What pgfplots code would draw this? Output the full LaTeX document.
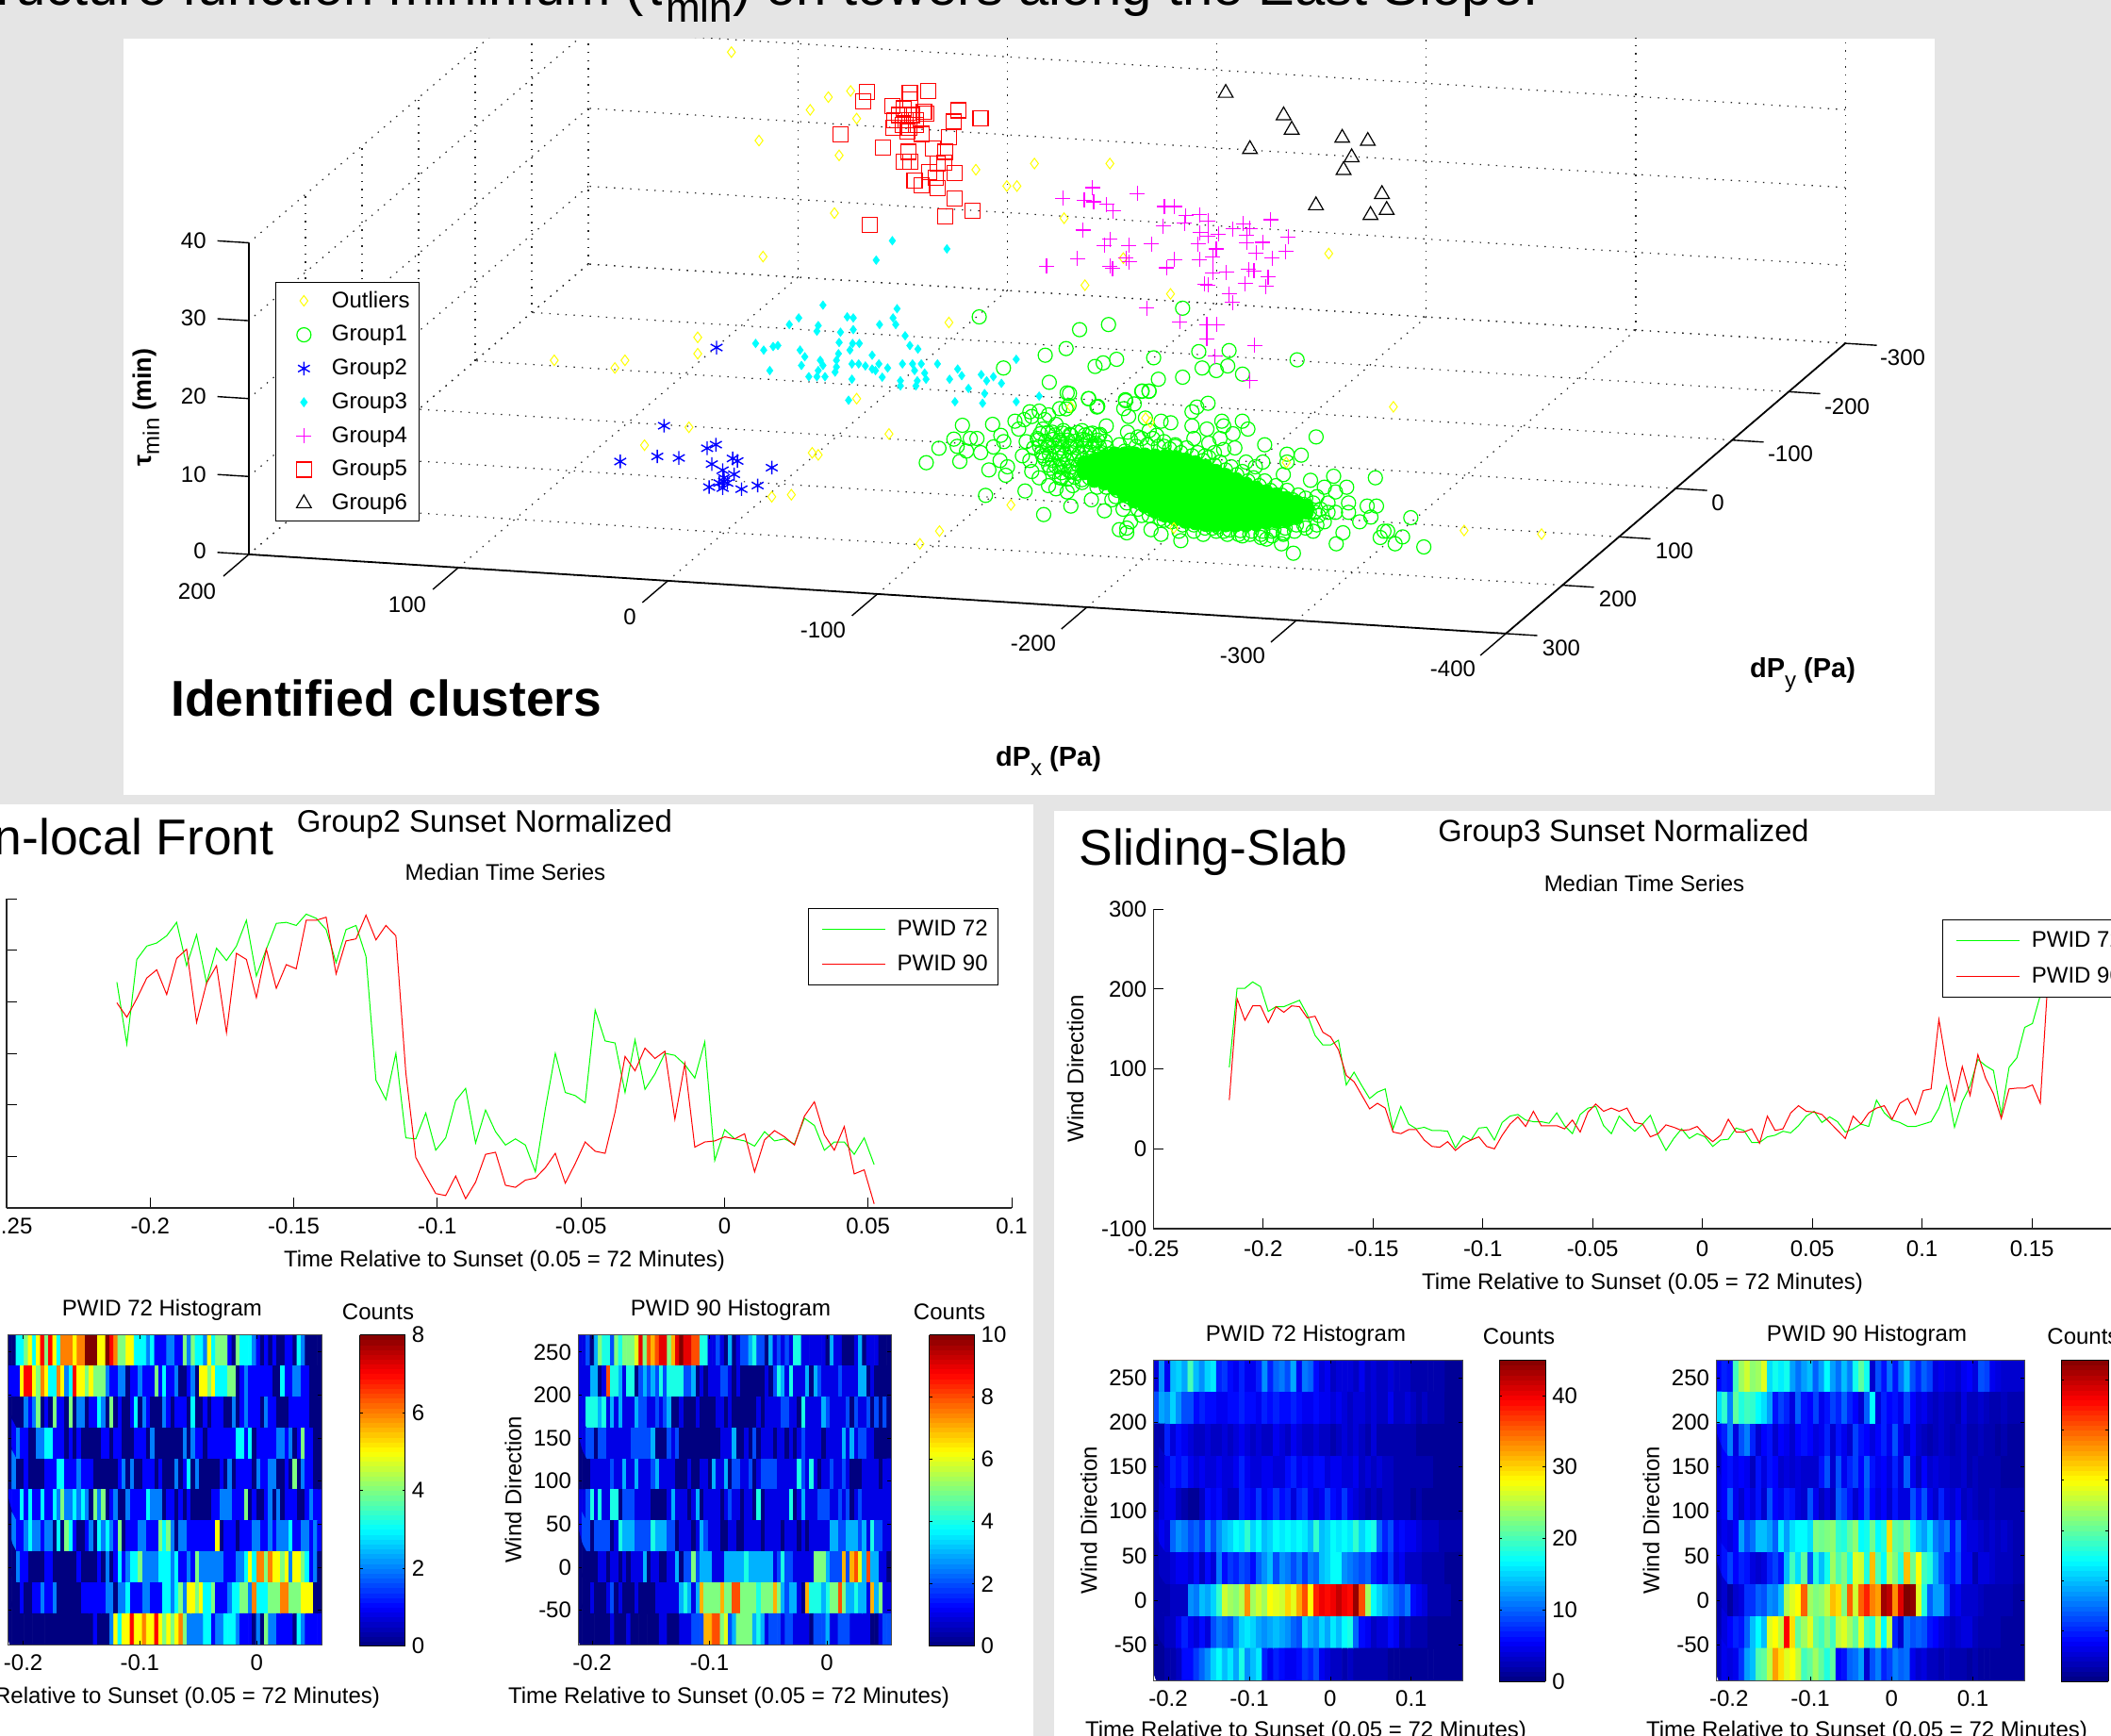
\documentclass[border=0pt]{standalone}
\usepackage{pgfplots}\pgfplotsset{compat=1.18}
\usepackage{pgfplotstable}
\usepackage{fontspec}\setmainfont{Liberation Sans}
\newcommand\fs[1]{\fontsize{#1}{#1}\selectfont}
\definecolor{bg}{HTML}{E5E5E5}
\definecolor{colY}{HTML}{FFFF00}\definecolor{colG}{HTML}{00FF00}\definecolor{colB}{HTML}{0000FF}
\definecolor{colC}{HTML}{00FFFF}\definecolor{colM}{HTML}{FF00FF}\definecolor{colR}{HTML}{FF0000}
\def\hadd#1 {\ifx|#1\else\expandafter\def\expandafter\hacc\expandafter{\hacc#1\\}\expandafter\hadd\fi}
\newcommand\hread[2]{\def\hacc{c\\}\hadd #1 | \edef\htmp{\noexpand\pgfplotstableread[row sep=crcr]{\unexpanded\expandafter{\hacc}}}\htmp#2}
\pgfplotsset{
 base/.style={scale only axis,font=\fs{12},tick label style={font=\fs{12}},/pgf/number format/assume math mode=true,clip=true},
 lineax/.style={base,axis x line=bottom,axis y line=left,axis line style={-,line width=.7pt,black!85},tick style={black,line width=.5pt},tick align=inside,major tick length=5.5pt,
   legend image code/.code={\path (-3.5pt,0pt) (37.8pt,0pt);\draw[##1,line width=.6pt] (0pt,0pt)--(33.5pt,0pt);},
   legend cell align=left},
 heat/.style={base,enlargelimits=false,y dir=normal,axis on top,tick align=inside,major tick length=2pt,tick style={black,line width=.4pt},axis line style={line width=.5pt,black!70},
   colormap/jet,ymin=-270,ymax=90,ytick={-250,-200,-150,-100,-50,0,50},xtick={-0.2,-0.1,0},xticklabels={-0.2,-0.1,0},yticklabels={250,200,150,100,50,0,-50},xticklabel style={yshift=-2pt}},
 lgd/.style={at={(0.797,0.97)},anchor=north west,draw=black,font=\fs{12},row sep=5pt,inner xsep=3.5pt,inner ysep=4pt},
 ptY/.style={only marks,mark=diamond,mark size=2.8pt,colY,mark options={line width=.5pt}},
 ptG/.style={only marks,mark=o,mark size=3.75pt,colG,mark options={line width=.6pt}},
 ptB/.style={only marks,mark=asterisk,mark size=3.6pt,colB,mark options={line width=.7pt}},
 ptC/.style={only marks,mark=diamond*,mark size=2.2pt,colC,mark options={fill=colC,draw=colC}},
 ptM/.style={only marks,mark=+,mark size=4pt,colM,mark options={line width=.6pt}},
 ptR/.style={only marks,mark=square,mark size=4pt,colR,mark options={line width=.6pt}},
 ptK/.style={only marks,mark=triangle,mark size=4.5pt,black,mark options={line width=.6pt}},
}
\hread{219 159 241 254 257 264 277 235 265 218
252 240 254 279 225 251 276 277 274 285
281 270 238 270 274 244 124 105 150 68
67 92 56 68 104 116 63 95 74 61
67 61 35 96 150 112 109 102 192 162
160 112 163 115 130 150 148 139 126 161
46 76 67 65 60 74 65 67 62 87
80 56 64 64 52 68 42}\lGa
\hread{199 185 203 223 231 207 242 251 180 218
235 170 247 241 204 251 213 236 232 279
279 282 227 259 261 284 260 274 264 131
49 31 14 12 31 9 25 52 54 22
20 27 29 39 53 24 43 64 55 53
93 147 133 155 145 152 86 140 59 64
65 69 67 72 35 66 75 69 61 89
103 71 56 79 33 37 4}\lGb
\hread{102 201 201 209 203 172 178 178 182 186
168 142 130 130 136 80 96 79 63 71
75 25 53 31 25 27 23 23 22 1
16 11 26 27 11 33 41 43 36 34
34 32 45 29 19 43 51 53 29 19
41 31 22 31 42 17 -2 13 25 13
19 15 3 11 12 26 23 8 8 15
17 22 20 29 41 47 33 40 34 21
25 31 28 61 45 36 33 28 28 31
34 51 79 27 59 79 112 104 98 43
102 114 152 157 192 215}\lHa
\hread{61 188 161 179 179 158 178 171 179 178
164 166 146 140 124 92 84 67 50 57
51 21 19 24 24 11 3 2 9 -2
6 11 15 3 0 17 31 40 28 47
29 29 29 25 36 21 46 56 47 51
47 51 33 31 15 19 30 27 23 24
28 17 9 17 37 21 21 25 7 41
23 25 45 54 47 46 43 33 23 13
41 31 45 51 54 37 57 63 43 73
75 162 104 60 103 67 118 88 69 38
75 76 76 80 57 215}\lHb
\hread{0 0 3 3 4 5 3 5 7 4
7 5 3 6 6 6 5 6 6 8
8 8 5 5 8 7 6 4 4 5
5 3 3 3 2 3 1 1 1 2
2 1 1 4 2 4 3 3 2 5
3 4 4 4 1 0 4 3 3 3
2 1 0 1 0 1 0 0 1 1
0 3 2 0 0 0 0
1 1 1 5 7 7 5 4 6 5
3 3 6 5 2 3 7 5 5 4
5 4 4 4 2 1 1 2 2 0
1 1 2 1 1 1 4 1 3 1
1 2 0 0 1 2 0 5 5 4
5 3 3 3 4 4 0 1 2 1
1 1 1 1 1 0 0 3 1 1
2 2 1 1 0 0 0
0 0 0 0 2 1 2 4 0 1
0 4 1 1 0 4 0 2 2 0
1 1 3 2 0 4 0 1 0 0
1 3 0 2 1 0 0 0 2 1
0 1 1 1 0 3 0 0 1 0
1 1 1 0 0 2 0 1 2 1
1 1 0 2 1 1 0 0 0 1
1 1 1 1 0 0 0
0 1 2 1 1 0 0 2 2 3
3 1 1 1 0 1 0 1 0 0
0 0 0 1 1 0 1 1 0 0
0 1 1 1 0 2 0 0 0 0
0 0 0 2 0 2 1 1 0 1
1 1 1 1 1 1 3 3 1 3
0 1 1 1 1 1 2 2 1 2
0 1 4 1 1 0 0
0 2 0 0 1 0 0 0 0 1
1 1 3 3 1 1 1 2 1 1
1 0 0 0 0 0 0 1 2 0
2 0 0 1 1 1 0 1 0 0
0 2 0 1 3 0 2 0 0 0
0 0 1 0 2 0 1 1 1 1
0 2 1 1 2 2 0 0 1 0
4 0 2 1 1 0 0
1 1 1 3 1 3 1 1 3 1
1 3 2 4 2 2 3 2 3 2
0 4 2 4 0 1 2 0 0 2
1 1 1 1 3 2 2 2 0 1
1 0 1 0 1 0 0 0 0 0
1 1 2 2 2 1 1 1 4 0
1 0 0 1 2 0 2 0 1 1
1 0 0 1 2 1 1
0 2 1 1 2 3 2 2 1 2
2 0 3 0 4 3 1 0 0 1
2 0 3 2 3 2 1 4 0 1
1 1 2 2 1 1 1 4 3 4
2 0 2 2 1 1 1 1 1 1
1 5 0 1 1 1 0 1 1 1
2 2 1 1 2 1 2 2 2 3
1 1 2 2 1 2 1
0 0 2 1 1 0 0 0 0 1
1 0 0 0 0 0 0 1 0 0
0 0 1 0 2 0 1 3 1 2
3 3 4 2 2 2 2 3 3 3
2 3 1 1 2 1 4 2 2 2
2 2 2 1 1 1 2 2 3 5
3 6 6 4 6 5 5 4 5 2
5 5 4 3 1 2 0
0 0 0 1 0 0 1 1 2 1
1 2 0 0 0 0 0 0 1 1
1 1 1 1 2 2 0 2 2 3
1 1 1 2 2 1 1 1 3 3
2 3 4 2 5 5 4 5 3 3
4 1 1 1 2 3 3 4 4 2
6 3 3 3 4 4 4 6 6 4
4 4 5 5 5 0 0
0 0 0 0 0 0 0 0 0 0
0 0 0 0 0 0 0 0 0 0
0 1 0 0 0 2 5 3 5 5
7 5 5 6 5 5 7 5 4 5
4 5 6 4 2 2 2 2 3 3
1 2 2 3 3 3 2 1 1 1
0 2 0 4 2 2 1 1 1 1
0 3 2 1 1 1 1}\hA
\hread{1 1 2 0 3 5 4 4 2 5
4 5 5 5 6 9 5 8 7 8
9 9 5 7 9 10 9 9 8 8
4 4 1 1 2 1 0 3 0 1
2 2 3 4 2 2 0 3 1 2
1 2 1 4 4 1 1 1 1 1
1 0 3 1 1 0 0 0 1 3
0 1 1 1 0 0 0
1 1 1 3 3 0 1 8 4 4
3 1 4 4 0 2 3 2 3 2
4 2 4 4 4 4 2 2 3 0
1 0 1 1 1 2 2 1 0 1
0 0 0 0 0 0 1 0 2 4
3 1 4 1 1 1 3 0 3 2
1 1 1 1 2 1 1 1 1 3
3 0 1 0 0 0 0
1 1 4 4 4 3 4 1 3 1
3 1 1 1 3 2 2 1 1 2
1 2 3 0 0 1 0 0 0 1
0 0 0 0 1 1 0 1 0 0
0 0 0 0 1 0 1 1 1 1
2 2 1 1 0 4 1 1 1 1
3 2 1 1 1 1 2 0 2 1
1 2 0 2 0 2 0
1 1 2 2 0 2 2 1 1 1
1 1 1 2 2 2 2 2 3 0
0 0 2 1 2 0 0 0 0 0
0 0 0 0 0 1 1 1 3 0
0 1 0 2 0 1 1 1 0 1
1 0 1 0 1 2 1 1 1 1
0 1 1 1 1 3 1 3 1 2
2 1 1 0 0 0 0
0 0 0 1 1 1 1 1 2 1
1 3 1 1 3 1 1 1 2 3
1 1 1 1 0 0 0 1 0 0
1 1 0 3 1 1 3 0 2 2
1 1 2 0 1 2 2 2 2 1
1 1 1 1 4 2 1 4 1 0
1 1 2 1 1 2 1 0 0 0
1 1 1 1 0 1 1
1 1 2 4 1 4 1 1 4 4
0 2 2 2 1 1 1 1 0 0
0 0 1 3 1 1 1 0 1 3
0 1 1 1 1 0 1 2 1 1
0 1 1 0 4 0 1 1 1 1
1 1 4 0 1 3 1 1 1 2
2 2 1 1 2 1 2 0 1 2
1 1 1 1 1 1 1
1 2 2 0 2 2 2 2 0 1
4 3 3 3 2 2 2 2 4 3
3 3 2 2 0 1 1 1 0 1
3 2 1 1 1 0 0 1 1 0
0 1 1 1 1 0 1 1 1 1
0 1 1 1 0 1 0 1 1 1
1 1 3 3 2 2 3 3 3 2
3 1 4 2 2 1 1
0 0 0 0 0 1 1 0 1 1
0 1 0 1 1 1 3 0 1 1
0 0 1 1 3 0 2 2 5 2
3 3 3 1 1 1 3 3 3 3
3 4 3 3 3 3 3 3 1 2
4 2 2 1 1 1 1 1 5 5
5 3 2 2 2 7 2 7 8 6
3 8 3 3 1 1 0
0 0 0 1 0 0 0 1 2 0
1 0 0 0 1 0 0 0 0 1
1 1 1 1 1 3 4 3 1 3
7 5 5 5 5 7 5 5 8 8
5 5 5 5 4 5 5 5 7 5
3 2 3 3 1 0 7 4 4 4
3 4 5 5 8 5 3 3 4 3
3 1 7 3 5 1 1
0 0 0 0 0 0 0 0 1 0
0 0 1 0 0 0 0 0 0 0
1 1 0 0 0 1 1 1 2 2
2 7 7 8 8 5 6 2 3 5
5 5 5 3 4 3 1 2 2 2
1 2 2 1 1 1 1 0 2 2
2 3 1 1 2 2 2 1 1 1
1 1 0 0 1 2 2}\hB
\hread{4 12 5 14 15 13 20 14 12 15
16 7 8 6 5 7 5 5 7 12
7 10 11 9 13 5 11 10 6 4
5 3 4 4 4 3 5 3 4 3
3 4 3 3 3 2 2 2 2 2
2 1 1 1
9 13 12 15 12 9 9 6 7 6
6 5 5 6 6 7 6 6 5 7
6 7 6 6 7 6 5 5 6 5
5 4 5 4 3 4 4 3 4 3
3 5 3 3 4 3 2 3 2 2
2 1 1 1
2 2 7 4 6 5 4 3 3 4
3 3 4 3 4 5 4 3 4 3
3 5 4 3 5 4 3 3 4 3
3 2 3 4 3 4 3 2 4 2
2 2 2 2 2 2 1 1 1 1
1 1 1 1
2 3 5 7 6 7 5 4 5 4
4 5 4 4 5 7 5 4 4 5
5 4 4 6 7 5 6 5 6 6
4 5 5 4 4 5 3 4 3 4
3 3 2 2 2 2 2 2 2 1
1 1 1 1
2 4 5 5 3 2 1 1 3 6
5 6 4 3 3 7 6 5 8 5
6 8 6 7 4 7 8 5 4 5
8 6 5 8 5 4 3 2 3 2
3 3 2 2 2 1 2 1 1 1
1 1 1 1
3 5 4 10 12 11 9 10 8 12
9 12 14 15 17 16 19 15 17 14
15 17 16 17 16 17 16 14 19 14
15 17 16 17 16 19 15 17 18 10
7 9 5 6 5 5 4 3 3 3
2 2 2 2
2 3 3 4 5 5 4 6 3 6
4 11 6 8 7 9 8 6 10 12
14 9 12 11 9 11 8 11 10 14
15 17 17 12 11 10 9 10 7 6
5 8 4 5 3 3 3 2 2 2
2 1 1 1
2 2 2 3 3 3 12 11 14 13
15 19 26 24 23 25 33 24 26 24
28 27 26 30 27 32 36 28 38 40
39 40 42 40 39 44 36 24 17 15
13 12 10 9 11 6 5 4 2 2
2 2 1 1
2 2 3 3 5 7 5 4 6 4
9 11 10 9 12 15 16 15 13 12
13 14 13 12 10 9 15 13 12 15
13 16 14 17 18 10 6 5 3 4
4 6 5 2 3 2 2 2 1 1
1 1 1 1
1 1 2 2 3 6 6 8 10 12
15 17 14 16 13 18 12 14 16 7
5 7 6 5 5 6 8 7 9 5
4 3 3 2 3 2 2 2 2 2
2 1 1 1 1 1 1 1 1 1
1 1 1 1}\hC
\hread{8 10 9 28 34 37 33 34 38 22
25 23 25 18 15 18 20 14 18 24
18 15 20 16 25 30 25 5 13 9
15 9 15 20 13 10 14 12 6 7
6 6 5 7 8 6 13 12 7 6
5 5 5 5
22 27 16 30 26 28 27 24 22 18
9 12 10 6 14 9 8 12 7 9
12 10 14 10 8 5 14 24 6 10
8 9 7 12 8 6 7 5 4 5
4 4 3 6 4 4 5 4 3 3
4 3 3 3
8 10 16 6 13 16 10 5 8 9
5 8 7 5 8 9 8 6 7 10
5 9 7 5 12 9 8 6 8 10
7 13 7 5 8 5 4 3 4 5
4 3 4 5 3 3 4 3 3 2
3 2 2 2
4 8 9 7 8 7 4 9 6 9
8 5 6 5 6 5 5 5 9 13
5 13 7 10 12 8 14 9 7 8
6 10 6 14 7 4 8 5 6 5
5 4 4 5 3 4 3 3 3 3
2 2 2 2
6 8 14 7 5 8 6 9 5 13
8 7 10 9 6 5 13 7 4 6
4 14 12 9 5 8 13 8 6 8
5 9 6 6 13 9 13 7 5 10
6 5 7 4 5 4 3 3 4 3
3 3 3 3
5 7 6 8 18 13 15 20 20 18
14 23 18 22 24 24 22 32 31 32
33 27 26 30 33 24 25 31 24 26
42 30 29 32 24 20 18 22 16 14
16 9 14 7 6 6 5 4 5 4
5 4 3 3
6 9 12 8 10 9 6 5 6 10
12 9 20 28 22 30 13 26 20 25
34 29 32 26 38 37 26 44 29 24
36 32 26 44 31 40 28 26 19 14
10 9 13 7 7 3 6 6 5 4
4 4 3 3
3 5 2 5 6 11 11 14 13 17
16 20 35 38 40 50 34 32 33 36
44 42 32 50 37 50 54 48 46 62
60 47 58 64 63 38 26 14 18 18
12 6 7 5 5 5 4 3 3 3
3 3 2 2
3 6 8 10 9 14 20 24 20 38
40 36 56 42 30 34 38 30 28 32
28 36 38 34 30 38 28 26 36 24
36 10 5 15 13 14 13 9 8 6
5 4 5 6 6 4 3 3 3 3
2 2 2 2
4 7 6 7 11 18 20 29 30 36
46 42 38 40 36 28 30 34 30 26
30 8 9 14 15 18 5 13 16 10
12 16 14 15 7 5 6 4 4 3
4 3 3 3 2 3 2 2 2 2
2 2 2 2}\hD
\begin{document}
\begin{tikzpicture}
\useasboundingbox (0,0) rectangle (1119.5pt,-920.5pt);
\clip (0,0) rectangle (1119.5pt,-920.5pt);
\fill[bg] (0,0) rectangle (1119.5pt,-920.5pt);
\fill[white] (65.5pt,-20.5pt) rectangle (1026pt,-421.5pt);
\fill[white] (0pt,-426.5pt) rectangle (548pt,-920.5pt);
\fill[white] (559pt,-430pt) rectangle (1119.5pt,-920.5pt);
\begin{scope}
\clip (65.5pt,-20.5pt) rectangle (1026pt,-421.5pt);
\begin{axis}[at={(444.2pt,-231pt)},anchor=origin,x={(-1.111pt,0.07pt)},y={(-0.3pt,-0.2565pt)},z={(0pt,4.13pt)},
 xmin=-400,xmax=200,ymin=-300,ymax=300,zmin=0,zmax=40,
 xtick={-400,-300,-200,-100,0,100,200},ytick={-300,-200,-100,0,100,200,300},ztick={0,10,20,30,40},
 xticklabels={},yticklabels={},zticklabels={},major tick length=0pt,
 grid=major,grid style={black!85,line width=.6pt,dash pattern=on .7pt off 3.6pt},axis line style={draw=none},clip=false]
\addplot3[black,line width=.9pt] coordinates {(200,300,0)(-400,300,0)};
\addplot3[black,line width=.9pt] coordinates {(-400,300,0)(-400,-300,0)};
\addplot3[black,line width=.9pt] coordinates {(200,300,0)(200,300,40)};
\pgfplotsinvokeforeach{200,100,0,-100,-200,-300,-400}{\addplot3[black,line width=.7pt] coordinates {(#1,300,0)(#1,345,0)};}
\pgfplotsinvokeforeach{300,200,100,0,-100,-200,-300}{\addplot3[black,line width=.7pt] coordinates {(-400,#1,0)(-415,#1,0)};}
\pgfplotsinvokeforeach{0,10,20,30,40}{\addplot3[black,line width=.7pt] coordinates {(200,300,#1)(215,300,#1)};}
\end{axis}
\end{scope}
% overlay: scatter, as read from the reference's projection
\begin{axis}[at={(0pt,-920.5pt)},anchor=south west,width=1119.5pt,height=920.5pt,scale only axis,hide axis,xmin=0,xmax=3134.6,ymin=0,ymax=3396.6,y dir=reverse,clip=false,
 legend style={at={(axis cs:409,552)},anchor=north west,draw=black,line width=.6pt,font=\fs{12},row sep=4pt,inner xsep=3pt,inner ysep=2.5pt,fill=white},legend cell align=left,
 legend image code/.code={\path (0pt,0pt) (24pt,0pt);\draw[#1] plot coordinates {(11.5pt,0pt)};}]
\addplot[ptG,forget plot,mark=*,mark options={fill=colG,draw=colG}] coordinates {
(1610,905)(1610,925)(1625,900)(1625,920)(1625,940)(1640,893)(1640,913)(1640,933)(1640,945)(1655,888)(1655,908)(1655,928)(1655,948)(1655,955)
(1670,888)(1670,908)(1670,928)(1670,948)(1670,968)(1685,888)(1685,908)(1685,928)(1685,948)(1685,968)(1685,980)(1700,890)(1700,910)(1700,930)(1700,950)(1700,970)(1700,990)
(1715,892)(1715,912)(1715,932)(1715,952)(1715,972)(1715,992)(1715,1000)(1730,893)(1730,913)(1730,933)(1730,953)(1730,973)(1730,993)(1730,1008)
(1745,895)(1745,915)(1745,935)(1745,955)(1745,975)(1745,995)(1745,1015)(1760,900)(1760,920)(1760,940)(1760,960)(1760,980)(1760,1000)(1760,1020)
(1775,905)(1775,925)(1775,945)(1775,965)(1775,985)(1775,1005)(1775,1023)(1790,912)(1790,932)(1790,952)(1790,972)(1790,992)(1790,1012)(1790,1026)
(1805,922)(1805,942)(1805,962)(1805,982)(1805,1002)(1805,1027)(1820,930)(1820,950)(1820,970)(1820,990)(1820,1010)(1820,1027)(1835,938)(1835,958)(1835,978)(1835,998)(1835,1018)(1835,1027)
(1850,947)(1850,967)(1850,987)(1850,1007)(1850,1027)(1865,955)(1865,975)(1865,995)(1865,1015)(1865,1025)(1880,962)(1880,982)(1880,1002)(1880,1022)(1895,968)(1895,988)(1895,1008)(1895,1020)
(1910,975)(1910,995)(1910,1018)(1925,982)(1925,1002)(1925,1012)(1940,990)(1940,1002)};
\addplot[ptG,forget plot] table[row sep=crcr,x expr=\thisrow{a}*0.5534+1330,y expr=\thisrow{b}*0.615+738] {a b\\
82 272\\116 226\\172 268\\179 153\\156 197\\165 220\\190 235\\200 195\\218 195\\228 240\\260 150\\250 295\\282 185\\290 205\\262 222\\280 265\\300 285\\295 312\\320 140\\345 135\\330 165\\360 110\\385 108\\410 120\\440 100\\460 50\\465 90\\518 68\\540 95\\
365 125\\400 135\\430 150\\395 165\\420 175\\450 170\\380 195\\350 205\\370 225\\410 215\\440 200\\470 185\\500 170\\520 180\\545 185\\565 155\\510 200\\535 210\\470 220\\440 240\\395 250\\360 265\\340 250\\365 300\\385 320\\410 345\\430 355\\460 365\\475 345\\445 320\\415 290\\440 285\\470 300\\500 335\\525 390\\560 425\\347 362\\241 376\\397 437\\470 410\\
622 175\\617 75\\660 45\\680 45\\640 85\\612 100\\625 125\\670 130\\712 140\\738 145\\680 170\\650 190\\700 185\\750 215\\720 220\\795 110\\838 83\\808 95\\795 155\\835 165\\875 140\\880 155\\930 140\\945 165\\905 180\\870 195\\840 210\\800 195\\910 225\\990 215\\880 230\\855 240\\830 250\\1050 245\\1088 248\\1128 190\\1050 270\\985 270\\940 270\\965 285\\1040 310\\
1113 328\\1175 315\\1210 350\\1287 320\\1180 365\\1150 350\\1130 380\\1160 400\\1215 400\\1215 430\\1180 430\\1265 410\\1290 410\\1275 445\\1245 460\\1200 495\\1182 530\\1382 447\\1310 490\\1320 490\\1300 510\\1340 530\\1360 508\\1417 540\\1135 440\\1110 430\\1095 470\\1120 490\\
600 485\\620 480\\620 495\\685 485\\712 500\\765 520\\825 500\\760 490\\880 490\\930 505\\995 515\\1010 490\\1035 530\\1067 560\\1040 495\\980 500\\850 480\\800 470\\660 440\\630 460\\720 455\\580 390\\610 420\\540 350\\
388 180\\408 176\\428 184\\448 178\\468 182\\488 176\\508 184\\528 178\\548 182\\382 200\\402 204\\422 198\\442 206\\462 200\\482 204\\502 198\\522 206\\542 200\\562 204\\386 220\\406 224\\426 218\\446 226\\466 220\\486 224\\506 218\\526 226\\546 220\\566 224\\
392 240\\412 244\\432 238\\452 246\\472 240\\492 244\\512 238\\532 246\\552 240\\572 244\\400 260\\420 264\\440 258\\460 266\\480 260\\500 264\\520 258\\540 266\\560 260\\580 264\\410 280\\430 284\\450 278\\470 286\\490 280\\510 284\\530 278\\550 286\\570 280\\590 284\\
425 300\\445 304\\465 298\\485 306\\505 300\\525 304\\545 298\\565 306\\585 300\\440 320\\460 324\\480 318\\500 326\\520 320\\540 324\\560 318\\580 326\\600 320\\
600 215\\630 200\\660 195\\690 195\\720 205\\750 220\\780 225\\810 240\\840 255\\870 270\\900 285\\930 300\\960 320\\990 330\\1020 345\\1050 360\\1080 375\\1100 385\\1120 400\\1140 420\\1160 430\\1150 460\\1130 470\\
1100 480\\1070 490\\1040 500\\1010 505\\980 510\\950 500\\920 500\\890 500\\860 490\\830 480\\800 490\\770 470\\740 460\\710 450\\680 440\\650 420\\620 400\\590 380\\565 350\\
615 235\\645 220\\675 215\\705 220\\735 228\\765 240\\795 250\\825 265\\855 280\\885 295\\915 310\\945 330\\975 345\\1005 360\\1035 375\\1065 390\\1095 405\\1125 430\\1075 470\\1045 480\\1015 485\\985 490\\955 490\\925 488\\895 486\\865 476\\835 468\\805 460\\775 455\\745 445\\715 435\\685 420\\655 400\\625 380\\595 360\\};
\addplot[ptY] coordinates {(1086,102)(1263,178)(1230,190)(1203,215)(1272,232)(1127,275)(1246,304)(1239,417)(1133,502)(1449,332)(1536,320)(1495,364)(1510,364)(1409,631)(1036,660)(1036,692)(928,705)(913,720)(823,705)(1272,780)(1023,836)(957,871)(1320,849)(1206,886)(1215,890)(1146,972)(1175,968)(1501,988)(1395,1039)(1366,1064)
(1648,320)(1580,427)(1668,505)(1973,496)(1611,558)(1738,575)(1590,796)(1701,818)(1708,826)(1743,1033)(1910,905)(2069,796)(2174,1038)(2289,1045)};
\addplot[ptG] table[row sep=crcr,x expr=\thisrow{a}+1568,y=b] {a b\\
-114 620\\-16 695\\-78 720\\-10 748\\188 603\\35 645\\78 635\\15 682\\58 717\\70 710\\90 703\\145 700\\212 688\\257 686\\358 704\\217 720\\238 725\\255 716\\277 732\\188 738\\152 742\\138 765\\128 765\\103 782\\48 780\\20 770\\15 800\\62 795\\};
\addplot[ptB] coordinates {(1064,680)(986,833)(1050,877)(1063,870)(921,903)(976,893)(1008,896)(1057,908)(1088,897)(1095,902)(1146,915)(1090,928)(1073,920)(1075,935)(1068,945)(1080,945)(1053,953)(1073,955)(1101,957)(1125,950)(1075,942)};
\addplot[ptC] coordinates {(1325,471)(1406,487)(1301,509)(1222,597)(1332,604)(1186,622)(1172,635)(1306,635)(1258,620)(1267,622)(1326,622)(1330,635)(1215,637)(1213,648)(1267,645)(1248,650)(1122,672)(1134,685)(1148,678)(1155,676)(1188,685)(1195,698)(1246,670)(1266,672)(1262,685)(1276,672)(1344,657)(1351,676)(1363,683)(1245,692)(1242,705)(1242,718)(1190,715)(1218,705)(1222,715)(1215,725)(1143,725)(1201,737)(1213,737)(1225,737)(1240,728)(1265,712)(1295,695)(1275,712)(1285,716)(1295,722)(1305,712)(1318,720)(1340,712)(1355,712)(1368,712)(1392,712)(1422,722)(1265,742)(1300,725)(1310,738)(1337,745)(1337,755)(1358,725)(1373,730)(1362,745)(1375,742)(1360,755)(1410,742)(1428,735)(1457,733)(1475,737)(1465,745)(1487,750)(1438,760)(1462,770)(1418,786)(1459,789)(1509,786)(1509,703)(1260,783)(1543,775)};
\addplot[ptM] table[row sep=crcr,x expr=\thisrow{a}+1568,y=b] {a b\\
-14 521\\10 388\\42 392\\54 367\\56 395\\75 400\\85 413\\121 379\\161 404\\176 404\\159 442\\191 437\\193 422\\213 420\\226 432\\40 450\\214 455\\226 462\\241 458\\263 448\\278 438\\288 447\\283 460\\283 475\\319 430\\345 464\\307 474\\297 495\\341 492\\321 505\\80 468\\72 480\\108 480\\142 477\\32 506\\104 505\\109 512\\80 521\\84 525\\164 524\\176 508\\213 508\\211 477\\238 487\\233 503\\233 534\\253 533\\286 527\\294 530\\315 542\\312 560\\281 555\\221 556\\226 558\\257 575\\262 592\\135 603\\184 630\\224 635\\239 635\\224 663\\295 676\\236 697\\288 745\\};
\addplot[ptR] coordinates {(1287,180)(1282,198)(1351,182)(1378,178)(1352,195)(1325,208)(1342,212)(1375,222)(1423,216)(1456,232)(1416,238)(1328,235)(1345,235)(1360,235)(1327,250)(1350,250)(1368,262)(1248,263)(1409,268)(1311,288)(1385,291)(1349,297)(1404,297)(1342,316)(1352,316)(1392,320)(1402,318)(1418,338)(1380,337)(1358,354)(1368,362)(1390,348)(1392,368)(1418,388)(1444,413)(1404,424)(1291,440)(1372,218)(1340,245)(1355,225)(1335,225)(1348,258)(1360,245)};
\addplot[ptK] table[row sep=crcr,x expr=\thisrow{a}+1568,y=b] {a b\\
252 182\\338 226\\350 254\\288 292\\425 270\\463 276\\439 308\\427 333\\484 380\\386 402\\491 411\\467 421\\};
\legend{Outliers,Group1,Group2,Group3,Group4,Group5,Group6}
\end{axis}
% group 2 line
\begin{axis}[lineax,at={(3.5pt,-640.5pt)},anchor=south west,width=533pt,height=164pt,xmin=-0.25,xmax=0.1,ymin=0,ymax=300,
 xtick={-0.25,-0.2,-0.15,-0.1,-0.05,0,0.05,0.1},xticklabels={-0.25,-0.2,-0.15,-0.1,-0.05,0,0.05,0.1},ytick={0,50,100,150,200,250,300},yticklabels={},xticklabel style={yshift=-2pt},
 legend style={lgd}]
\addplot[colG,line width=.5pt] table[x index=0,y index=0,x expr={-0.2116+0.00347*\coordindex},y expr=\thisrow{c}] {\lGa};
\addplot[colR,line width=.5pt] table[x index=0,y index=0,x expr={-0.2116+0.00347*\coordindex},y expr=\thisrow{c}] {\lGb};
\legend{PWID 72,PWID 90}
\end{axis}
% group 3 line
\begin{axis}[lineax,at={(611.6pt,-651.5pt)},anchor=south west,width=524.2pt,height=169.4pt,xmin=-0.25,xmax=0.2,ymin=-100,ymax=300,
 xtick={-0.25,-0.2,-0.15,-0.1,-0.05,0,0.05,0.1,0.15,0.2},xticklabels={-0.25,-0.2,-0.15,-0.1,-0.05,0,0.05,0.1,0.15,0.2},ytick={-100,0,100,200,300},yticklabels={-100,0,100,200,300},xticklabel style={yshift=-3pt},
 ylabel={Wind Direction},ylabel style={yshift=2.5pt},
 legend style={lgd,at={(0.798,0.9676)}}]
\addplot[colG,line width=.5pt] table[x index=0,y index=0,x expr={-0.2154+0.00355*\coordindex},y expr=\thisrow{c}] {\lHa};
\addplot[colR,line width=.5pt] table[x index=0,y index=0,x expr={-0.2154+0.00355*\coordindex},y expr=\thisrow{c}] {\lHb};
\legend{PWID 72,PWID 90}
\end{axis}
% heat group 2
\begin{axis}[heat,at={(4.2pt,-872pt)},anchor=south west,width=166.3pt,height=164.2pt,xmin=-0.2131,xmax=0.0556,yticklabels={},
 colorbar sampled,point meta min=0,point meta max=8,colorbar style={samples=65,width=24pt,height=165pt,ytick={0,2,4,6,8},yticklabels={0,2,4,6,8},tick align=inside,major tick length=1.5pt,at={(1.1225,1)},anchor=north west,yticklabel style={font=\fs{12}}}]
\addplot[matrix plot,y dir=normal,mesh/cols=77,point meta=explicit] table[x index=0,y index=0,x expr={-0.2131+(mod(\coordindex,77)+0.5)*0.00349},y expr={-252+36*floor(\coordindex/77)},meta=c] {\hA};
\end{axis}
\begin{axis}[heat,at={(306.5pt,-872pt)},anchor=south west,width=166pt,height=164.2pt,xmin=-0.212,xmax=0.0546,
 colorbar sampled,point meta min=0,point meta max=10,colorbar style={samples=65,width=24pt,height=165pt,ytick={0,2,4,6,8,10},yticklabels={0,2,4,6,8,10},tick align=inside,major tick length=1.5pt,at={(1.1225,1)},anchor=north west,yticklabel style={font=\fs{12}}},
 ylabel={Wind Direction},ylabel style={yshift=-.5pt}]
\addplot[matrix plot,y dir=normal,mesh/cols=77,point meta=explicit] table[x index=0,y index=0,x expr={-0.212+(mod(\coordindex,77)+0.5)*0.003462},y expr={-252+36*floor(\coordindex/77)},meta=c] {\hB};
\end{axis}
% heat group 3
\begin{axis}[heat,at={(611.75pt,-891pt)},anchor=south west,width=163.75pt,height=170pt,xmin=-0.218,xmax=0.163,xtick={-0.2,-0.1,0,0.1},xticklabels={-0.2,-0.1,0,0.1},
 colorbar sampled,point meta min=0,point meta max=45,colorbar style={samples=65,width=24.5pt,height=170.5pt,ytick={0,10,20,30,40},yticklabels={0,10,20,30,40},tick align=inside,major tick length=1.5pt,at={(1.12,1)},anchor=north west,yticklabel style={font=\fs{12}}},
 ylabel={Wind Direction},ylabel style={yshift=-.5pt}]
\addplot[matrix plot,y dir=normal,mesh/cols=54,point meta=explicit] table[x index=0,y index=0,x expr={-0.218+(mod(\coordindex,54)+0.5)*0.007056},y expr={-252+36*floor(\coordindex/54)},meta=c] {\hC};
\end{axis}
\begin{axis}[heat,at={(910pt,-891pt)},anchor=south west,width=163.5pt,height=170pt,xmin=-0.216,xmax=0.163,xtick={-0.2,-0.1,0,0.1},xticklabels={-0.2,-0.1,0,0.1},
 colorbar sampled,point meta min=0,point meta max=64,colorbar style={samples=65,width=25pt,height=170.5pt,ytick={0,10,20,30,40,50,60},yticklabels={},tick align=inside,major tick length=1.5pt,at={(1.12,1)},anchor=north west},
 ylabel={Wind Direction},ylabel style={yshift=-.5pt}]
\addplot[matrix plot,y dir=normal,mesh/cols=54,point meta=explicit] table[x index=0,y index=0,x expr={-0.216+(mod(\coordindex,54)+0.5)*0.00702},y expr={-252+36*floor(\coordindex/54)},meta=c] {\hD};
\end{axis}
% text
\begin{scope}[x=.5pt,y=-.5pt]
\node[anchor=base east,inner sep=0,font=\fs{29}] at (1632,6) {Structure function minimum (τ\raisebox{-.3em}{\fs{22}min}) on towers along the East Slope.};
\node[anchor=west,inner sep=0,font=\bfseries\fs{26.7}] at (181,740) {Identified clusters};
\node[inner sep=0,font=\bfseries\fs{14.5}] at (1112,807) {dP\raisebox{-.35em}{\fs{12}\mdseries x} (Pa)};
\node[inner sep=0,font=\bfseries\fs{14.5}] at (1912,716) {dP\raisebox{-.35em}{\fs{12}\mdseries y} (Pa)};
\node[inner sep=0,rotate=90,font=\bfseries\fs{13.5}] at (155,432) {τ\raisebox{-.3em}{\fs{12}\mdseries min} (min)};
\foreach \p/\q/\t in {209/627/200,432/641/100,668/654/0,873/668/-100,1096/682/-200,1318/695/-300,1541/709/-400,2018/379/-300,1959/431/-200,1899/481/-100,1822/533/0,1776/584/100,1716/635/200,1656/687/300}{\node[inner sep=0,font=\fs{12}] at (\p,\q) {\t};}
\foreach \q/\t in {255/40,337/30,420/20,503/10,584/0}{\node[inner sep=0,anchor=east,font=\fs{12}] at (219,\q) {\t};}
\node[anchor=east,inner sep=0,font=\fs{26.7}] at (291,887) {Non-local Front};
\node[anchor=west,inner sep=0,font=\fs{26.7}] at (1144,904) {Sliding-Slab};
\node[inner sep=0,font=\fs{16.5}] at (514,874) {Group2 Sunset Normalized};
\node[inner sep=0,font=\fs{16.3}] at (1722,884) {Group3 Sunset Normalized};
\node[inner sep=0,font=\fs{12}] at (536,925) {Median Time Series};
\node[inner sep=0,font=\fs{12}] at (1744,937) {Median Time Series};
\node[inner sep=0,font=\fs{12}] at (535,1337) {Time Relative to Sunset (0.05 = 72 Minutes)};
\node[inner sep=0,font=\fs{12}] at (1742,1361) {Time Relative to Sunset (0.05 = 72 Minutes)};
\node[inner sep=0,font=\fs{12}] at (169,1800) {Time Relative to Sunset (0.05 = 72 Minutes)};
\node[inner sep=0,font=\fs{12}] at (773,1800) {Time Relative to Sunset (0.05 = 72 Minutes)};
\node[inner sep=0,font=\fs{12}] at (1385,1836) {Time Relative to Sunset (0.05 = 72 Minutes)};
\node[inner sep=0,font=\fs{12}] at (1980,1836) {Time Relative to Sunset (0.05 = 72 Minutes)};
\node[inner sep=0,font=\fs{12}] at (172,1389) {PWID 72 Histogram};
\node[inner sep=0,font=\fs{12}] at (775,1389) {PWID 90 Histogram};
\node[inner sep=0,font=\fs{12}] at (1385,1416) {PWID 72 Histogram};
\node[inner sep=0,font=\fs{12}] at (1980,1416) {PWID 90 Histogram};
\node[inner sep=0,font=\fs{12}] at (401,1391) {Counts};
\node[inner sep=0,font=\fs{12}] at (1007,1391) {Counts};
\node[inner sep=0,font=\fs{12}] at (1611,1417) {Counts};
\node[inner sep=0,anchor=west,font=\fs{12}] at (2171,1417) {Counts};
\end{scope}
\end{tikzpicture}
\end{document}
